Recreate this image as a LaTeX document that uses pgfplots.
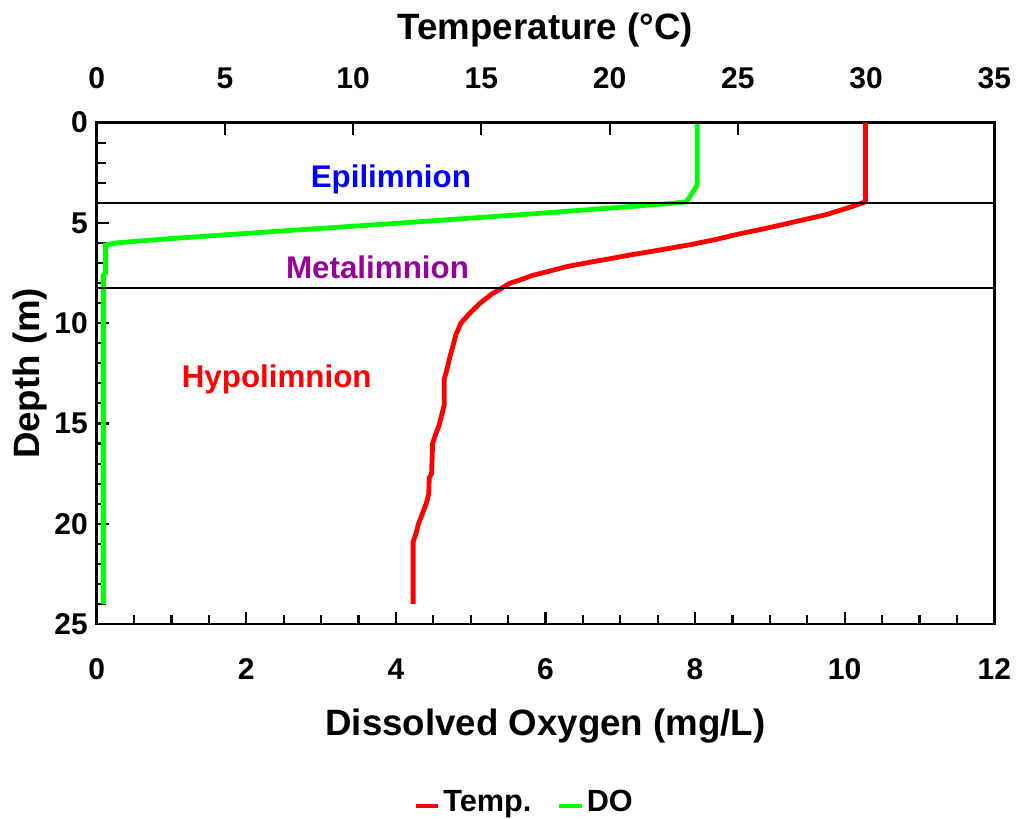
\documentclass[border=0pt]{standalone}
\usepackage{fontspec}
\setmainfont{Liberation Sans}
\usepackage{pgfplots}
\pgfplotsset{compat=1.18}

\definecolor{doGreen}{RGB}{0,255,0}
\definecolor{tRed}{RGB}{255,0,0}
\definecolor{epiBlue}{RGB}{0,0,255}
\definecolor{metaPurple}{RGB}{153,0,153}

\pgfplotsset{
  lakebase/.style={
    scale only axis, width=673.2pt, height=376pt,
    ymin=0, ymax=25, y dir=reverse,
    tick align=inside,
    major tick length=9pt, minor tick length=7pt,
    tick style={black, line width=1.6pt},
    axis line style={line width=2pt},
    /pgf/number format/assume math mode=true,
    ticklabel style={font=\fontsize{22.5}{22.5}\selectfont\bfseries, inner sep=0pt},
    label style={font=\fontsize{27.5}{27.5}\selectfont\bfseries},
  }
}

\begin{document}
\begin{tikzpicture}
% DO axis (bottom / left)
\begin{axis}[lakebase, name=ax,
  xmin=0, xmax=12, xtick={0,2,...,12}, minor x tick num=3,
  ytick={0,5,...,25}, minor y tick num=4,
  xtick pos=lower, ytick pos=left,
  xticklabel style={anchor=north, yshift=-26pt},
  yticklabel style={anchor=east, xshift=-6.5pt},
  xlabel={Dissolved Oxygen (mg/L)},
  xlabel style={at={(axis description cs:0.5,-0.2214)}, anchor=base},
  ylabel={Depth (m)},
  ylabel style={at={(axis description cs:-0.0632,0.5)}, anchor=base, rotate=0},
]
\addplot[doGreen, line width=3.6pt] coordinates {
  (8.03,0) (8.03,3.1) (7.98,3.4) (7.93,3.7) (7.88,3.95) (7.6,4.05)
  (7.0,4.22) (6.0,4.5) (5.0,4.76) (4.0,5.02) (3.0,5.27) (2.0,5.52)
  (1.0,5.78) (0.5,5.92) (0.25,6.0) (0.12,6.1) (0.12,7.5) (0.09,7.6)
  (0.09,24)
};
\end{axis}
% Temperature axis (top)
\begin{axis}[lakebase,
  xmin=0, xmax=35, xtick={0,5,...,35},
  axis x line*=top, hide y axis,
  tick align=inside,
  xticklabel style={anchor=south, yshift=25pt},
  xlabel={Temperature (°C)},
  xlabel style={at={(axis description cs:0.5,1.165)}, anchor=base},
  legend columns=2,
  legend style={at={(0.4766,-0.355)}, anchor=center, draw=none, fill=none,
    font=\fontsize{23}{23}\selectfont\bfseries,
    /tikz/every even column/.append style={column sep=17pt}},
  legend image code/.code={\draw[#1, line width=3.5pt] (0pt,-3pt) -- (17pt,-3pt);},
]
\addplot[tRed, line width=3.6pt] coordinates {
  (29.98,0) (29.98,3.95) (29.73,4.06) (29.17,4.30) (28.43,4.59) (27.74,4.79)
  (27.13,4.97) (25.99,5.30) (24.97,5.57) (24.23,5.80) (23.2,6.07) (22.18,6.30)
  (21.27,6.50) (20.79,6.6) (19.95,6.80) (19.36,6.93) (18.32,7.18) (17.48,7.46)
  (16.96,7.63) (16.5,7.85) (16.1,8.01) (15.79,8.26) (15.4,8.55) (14.95,9.0)
  (14.55,9.5) (14.2,10.0) (14.0,10.6) (13.88,11.2) (13.77,11.7) (13.64,12.4)
  (13.55,12.8) (13.55,14.1) (13.45,14.6) (13.35,15.1) (13.2,15.6) (13.1,16.0)
  (13.06,17.5) (12.97,17.7) (12.95,18.5) (12.85,19.0) (12.7,19.5) (12.55,20.0)
  (12.45,20.5) (12.34,20.9) (12.34,24.0)
};
\addlegendentry{Temp.}
\addlegendimage{doGreen, line width=3.6pt}
\addlegendentry{DO}
\addplot[black, line width=1.4pt, forget plot] coordinates {(0,4) (35,4)};
\addplot[black, line width=1.4pt, forget plot] coordinates {(0,8.25) (35,8.25)};
\node[anchor=base, text=epiBlue, font=\fontsize{23.5}{23.5}\selectfont\bfseries] at (axis cs:11.47,3.22) {Epilimnion};
\node[anchor=base, text=metaPurple, font=\fontsize{23.5}{23.5}\selectfont\bfseries] at (axis cs:10.95,7.76) {Metalimnion};
\node[anchor=base, text=tRed, font=\fontsize{23.5}{23.5}\selectfont\bfseries] at (axis cs:7.02,13.2) {Hypolimnion};
\end{axis}
\pgfresetboundingbox
\path (ax.south west) ++(-72.5pt,-145.5pt) rectangle ++(768pt,613.5pt);
\end{tikzpicture}
\end{document}
